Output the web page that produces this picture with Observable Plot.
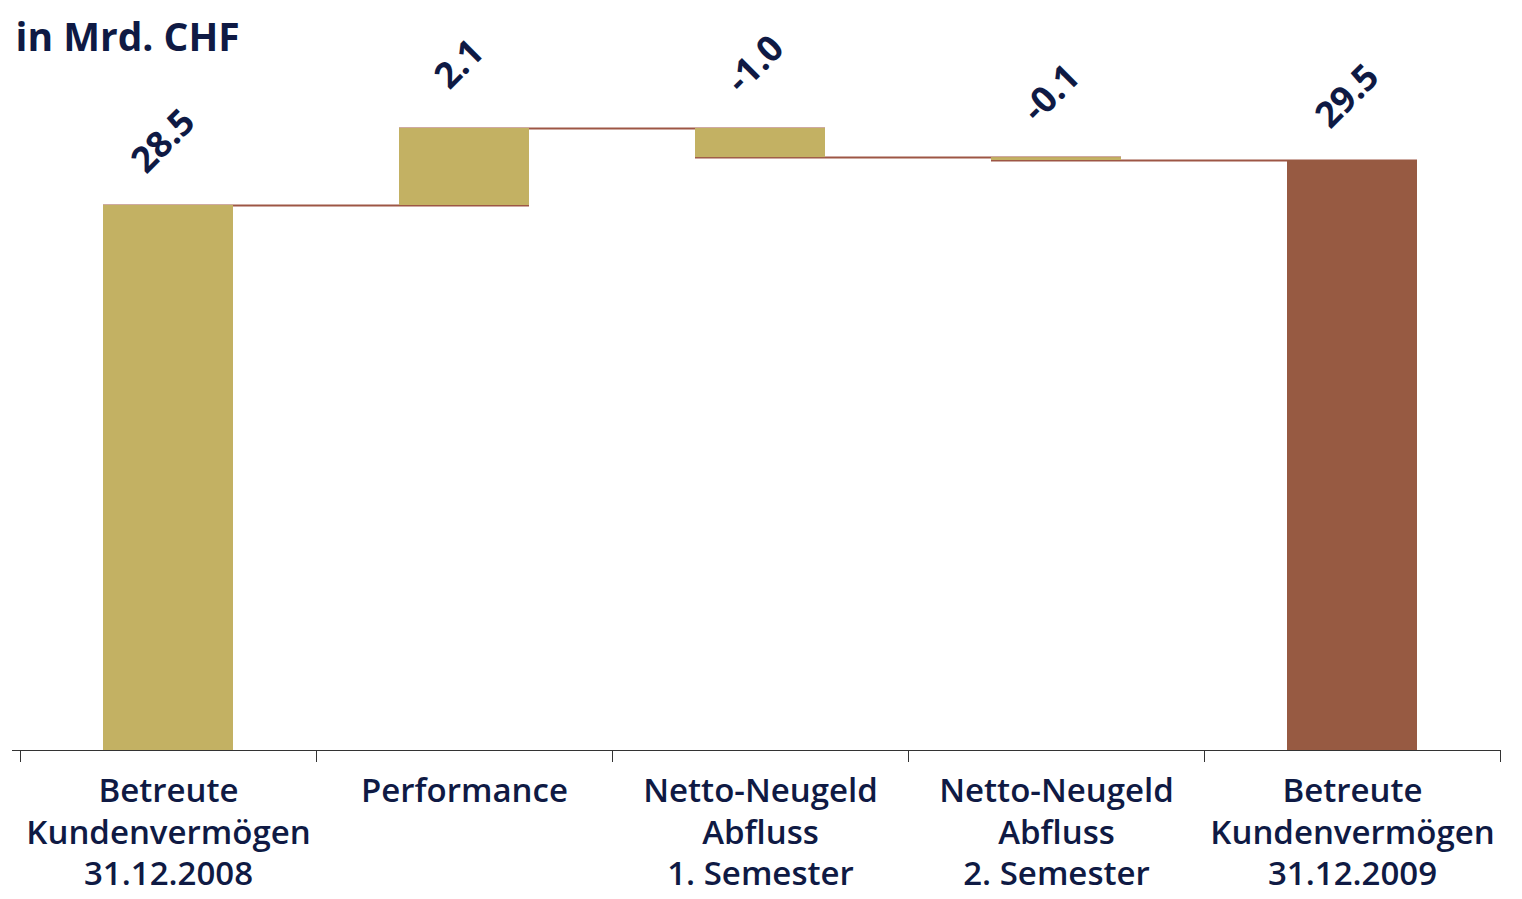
<!DOCTYPE html>
<html><head><meta charset="utf-8">
<script src="https://cdn.jsdelivr.net/npm/d3@7"></script>
<script src="https://cdn.jsdelivr.net/npm/@observablehq/plot@0.6"></script>
<style>body{margin:0;background:#fff}</style>
</head><body><div id="chart"></div>
<script>
const title = "in Mrd. CHF";
const categories = [
  "Betreute\nKundenvermögen\n31.12.2008",
  "Performance",
  "Netto-Neugeld\nAbfluss\n1. Semester",
  "Netto-Neugeld\nAbfluss\n2. Semester",
  "Betreute\nKundenvermögen\n31.12.2009"
];
const values = [28.5, 2.1, -1.0, -0.1, 29.5];
const kinds = ["start", "delta", "delta", "delta", "end"];

const navy = "#0f1a44", olive = "#c3b163", brown = "#975a42", connector = "#9d5645";

let running = 0;
const rows = categories.map((c, i) => {
  let y1, y2;
  if (kinds[i] === "delta") { y1 = running; y2 = running + values[i]; running = y2; }
  else { y1 = 0; y2 = values[i]; running = values[i]; }
  return {category: c, value: values[i], kind: kinds[i], y1, y2, top: Math.max(y1, y2), level: y2};
});
const connectors = rows.slice(0, -1).map((r, i) => ({from: r.category, to: rows[i + 1].category, level: r.level}));

const W = 1522, H = 899;
const xRange = [20, 1500];
const step = (xRange[1] - xRange[0]) / categories.length;
const maxTop = d3.max(rows, d => d.top);

const chart = Plot.plot({
  width: W, height: H,
  marginLeft: 12, marginRight: 22, marginTop: 0, marginBottom: 149,
  style: {fontFamily: "'Open Sans', sans-serif", background: "#fff"},
  x: {type: "band", domain: categories, range: xRange, paddingInner: 0.56, paddingOuter: 0.28, axis: null},
  y: {type: "linear", domain: [0, values[0], values[4], maxTop], range: [750, 205, 160, 128], axis: null},
  color: {type: "identity"},
  marks: [
    Plot.ruleY(connectors, {y: "level", x1: "from", x2: "to", stroke: connector, strokeWidth: 2}),
    Plot.barY(rows, {x: "category", y1: "y1", y2: "y2", fill: d => d.kind === "end" ? brown : olive}),
    Plot.ruleY([0], {stroke: "#333", strokeWidth: 1}),
    Plot.ruleX(rows, {x: "category", y1: 0, y2: 0, dx: -step / 2, insetBottom: -12, stroke: "#333"}),
    Plot.ruleX(rows.slice(-1), {x: "category", y1: 0, y2: 0, dx: step / 2, insetBottom: -12, stroke: "#333"}),
    Plot.text(rows, {x: "category", y: "top", text: d => d.value.toFixed(1), rotate: -45, dx: -5, dy: -64,
      fontSize: 36, fontWeight: 700, fill: navy}),
    Plot.text(rows, {x: "category", text: "category", frameAnchor: "bottom", lineAnchor: "top", dy: 22,
      fontSize: 33, fontWeight: 600, lineHeight: 1.26, fill: navy}),
    Plot.text([title], {frameAnchor: "top-left", text: d => d, textAnchor: "start", lineAnchor: "top",
      dx: 3, dy: 23, fontSize: 39, fontWeight: 700, fill: navy})
  ]
});
document.getElementById("chart").appendChild(chart);
</script>
</body></html>
